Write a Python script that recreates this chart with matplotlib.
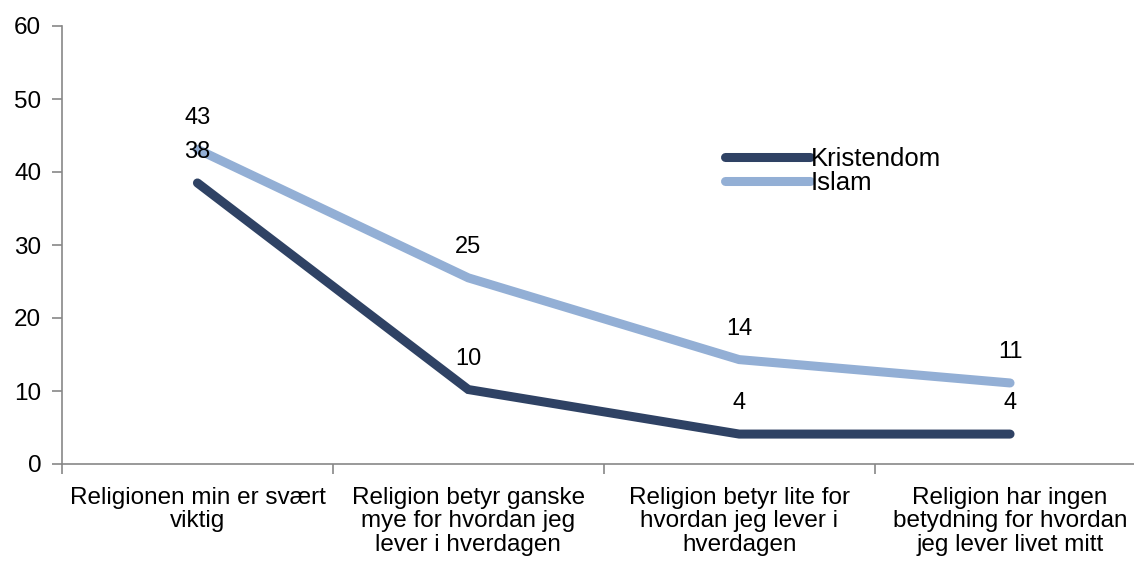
import matplotlib
matplotlib.use("Agg")
import matplotlib.pyplot as plt
from matplotlib.ticker import FixedLocator

plt.rcParams['font.family'] = ['Liberation Sans', 'DejaVu Sans']

categories = [
    "Religionen min er svært\nviktig",
    "Religion betyr ganske\nmye for hvordan jeg\nlever i hverdagen",
    "Religion betyr lite for\nhvordan jeg lever i\nhverdagen",
    "Religion har ingen\nbetydning for hvordan\njeg lever livet mitt",
]
kristendom = [38.5, 10.2, 4.1, 4.1]
islam = [43.1, 25.5, 14.3, 11.1]
kristendom_labels = ["38", "10", "4", "4"]
islam_labels = ["43", "25", "14", "11"]

c_k = "#2F4264"
c_i = "#93AFD5"
spine_c = "#878787"

W, H = 1134, 561
fig = plt.figure(figsize=(W/100, H/100), dpi=100)
ax = fig.add_axes([62/W, 97/H, 1083.5/W, 438/H])

x = [i + 0.5 for i in range(len(categories))]
ax.plot(x, kristendom, color=c_k, lw=6.5, solid_capstyle='round', solid_joinstyle='miter', label="Kristendom", zorder=3)
ax.plot(x, islam, color=c_i, lw=6.5, solid_capstyle='round', solid_joinstyle='miter', label="Islam", zorder=2)

for xi, v, t in zip(x, kristendom, kristendom_labels):
    ax.annotate(t, (xi, v), xytext=(0, 22.3), textcoords='offset points',
                ha='center', va='center', fontsize=17, color='black', zorder=5)
for xi, v, t in zip(x, islam, islam_labels):
    ax.annotate(t, (xi, v), xytext=(0, 22.3), textcoords='offset points',
                ha='center', va='center', fontsize=17, color='black', zorder=5)

ax.set_xlim(0, 4)
ax.set_ylim(0, 60)
ax.set_yticks(range(0, 61, 10))
ax.xaxis.set_major_locator(FixedLocator([0, 1, 2, 3, 4]))
ax.set_xticklabels([])
ax.xaxis.set_minor_locator(FixedLocator(x))
ax.set_xticklabels(categories, minor=True, fontsize=17.5, linespacing=1.08)
ax.tick_params(axis='x', which='minor', length=0, pad=16.5)
ax.tick_params(axis='x', which='major', length=7, color=spine_c, width=1.2)
ax.tick_params(axis='y', length=7, color=spine_c, width=1.2, labelsize=17.5, pad=8)

for s in ['top', 'right']:
    ax.spines[s].set_visible(False)
for s in ['left', 'bottom']:
    ax.spines[s].set_color(spine_c)
    ax.spines[s].set_linewidth(1.2)

leg = ax.legend(loc='upper left', bbox_to_anchor=((725-62)/1083.5, 1 - (147-26)/438),
                frameon=False, fontsize=18.5, handlelength=3.3, handletextpad=0.05,
                labelspacing=0.0, borderaxespad=0, borderpad=0)

fig.savefig("out.png", dpi=100)
